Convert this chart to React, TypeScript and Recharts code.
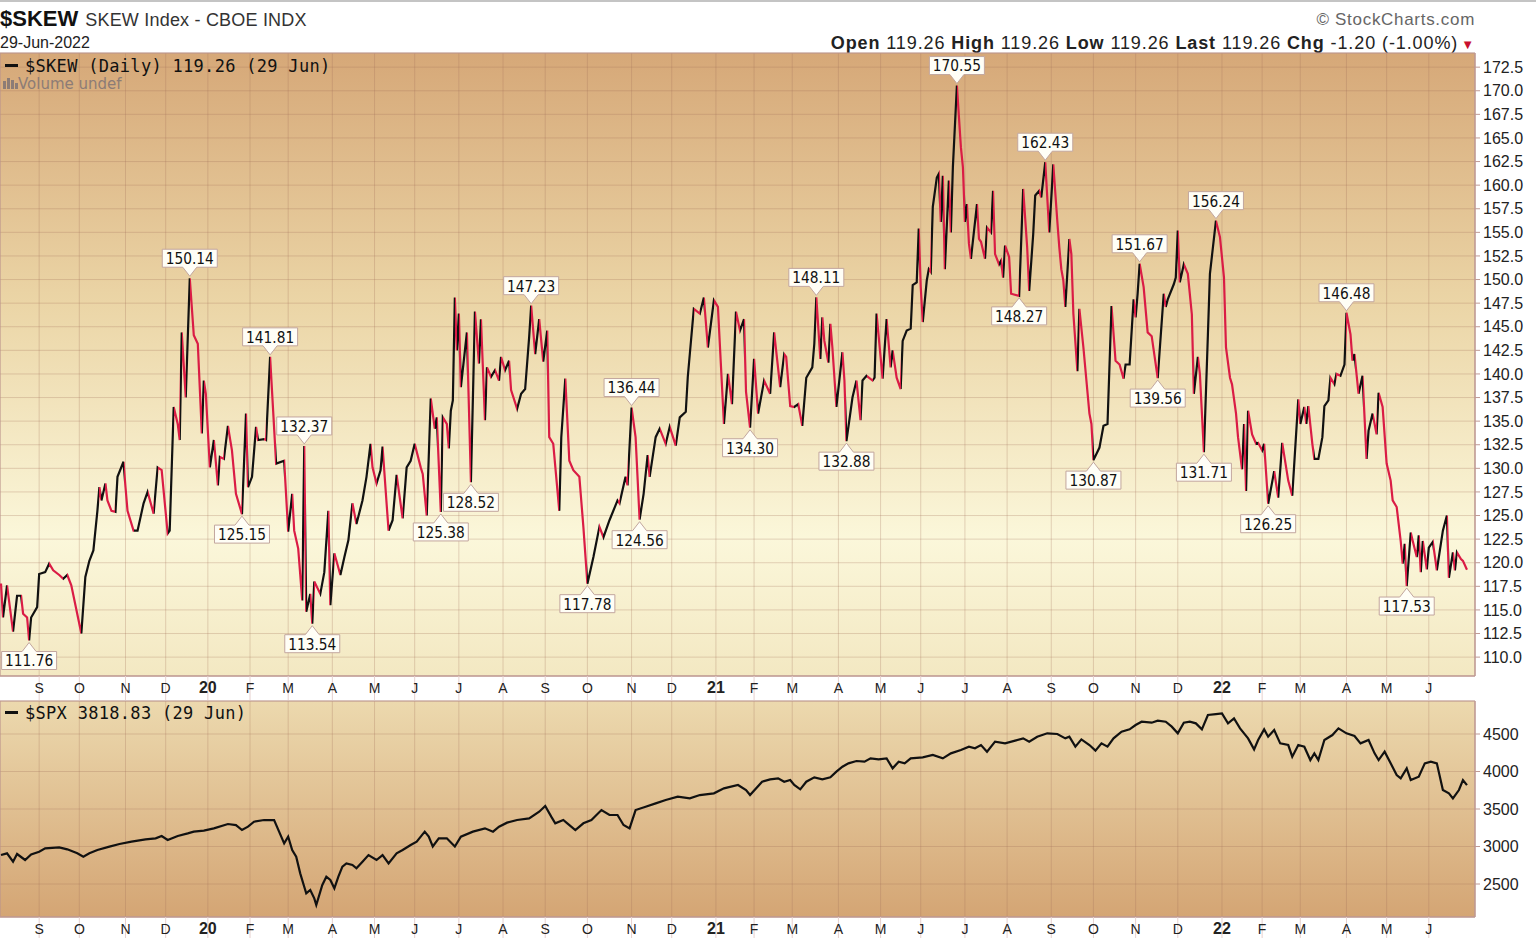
import React from "react";
import {
  ComposedChart,
  Line,
  XAxis,
  YAxis,
  CartesianGrid,
  ReferenceDot,
  ReferenceArea,
} from "recharts";

// month tick labels (Sep 2019 .. Jun 2022)
const monthLabels = [
  "S", "O", "N", "D",
  "20", "F", "M", "A", "M", "J", "J", "A", "S", "O", "N", "D",
  "21", "F", "M", "A", "M", "J", "J", "A", "S", "O", "N", "D",
  "22", "F", "M", "A", "M", "J",
];
// trading days per month, Aug 2019 (partial) .. Jun 2022 (to the 29th)
const monthTradingDays = [
  19, 20, 23, 20, 21,
  21, 19, 22, 21, 20, 22, 22, 21, 21, 22, 20, 22,
  19, 19, 23, 21, 20, 22, 21, 22, 21, 21, 21, 22,
  20, 19, 23, 20, 21, 20,
];

const skewTicks = [
  110, 112.5, 115, 117.5, 120, 122.5, 125, 127.5, 130, 132.5, 135, 137.5, 140,
  142.5, 145, 147.5, 150, 152.5, 155, 157.5, 160, 162.5, 165, 167.5, 170, 172.5,
];
const spxTicks = [2500, 3000, 3500, 4000, 4500];

// [trading day, close]
const skewPoints: [number, number][] = [
  [0, 117.8], [1, 114.2], [3, 117.6], [6, 112.7], [8, 116.5], [10, 116.5], [11, 114.6], [13, 114.2],
  [14, 111.76], [15, 114.2], [18, 115.3], [19, 118.8], [22, 119.0], [24, 119.9], [26, 119.2], [29, 118.7],
  [31, 118.3], [33, 118.7], [35, 117.6], [40, 112.5], [42, 118.5], [44, 120.2], [46, 121.3], [48, 125.5],
  [49, 128.0], [50, 126.6], [52, 128.4], [53, 126.6], [55, 125.5], [57, 125.4], [58, 129.1], [61, 130.7],
  [62, 128.0], [63, 125.5], [66, 123.4], [68, 123.4], [71, 126.3], [73, 127.5], [76, 125.2], [78, 130.1],
  [80, 129.8], [83, 123.1], [84, 123.4], [86, 136.5], [88, 134.7], [89, 133.0], [90, 144.4], [92, 137.5],
  [94, 150.14], [96, 144.1], [98, 143.2], [100, 133.7], [101, 139.3], [102, 137.9], [104, 130.1], [106, 133.0],
  [108, 128.2], [109, 131.2], [111, 131.0], [113, 134.5], [115, 131.9], [117, 127.3], [120, 125.15], [122, 135.8],
  [123, 128.0], [125, 129.1], [127, 134.4], [128, 133.0], [131, 133.1], [132, 133.0], [134, 141.81], [137, 130.5],
  [141, 130.8], [143, 123.3], [145, 127.3], [146, 123.4], [148, 121.5], [150, 116.0], [151, 132.37], [152, 114.8],
  [154, 116.7], [155, 113.54], [156, 118.0], [159, 116.7], [161, 119.0], [163, 125.5], [164, 115.5], [166, 121.0],
  [169, 118.7], [171, 120.6], [173, 122.4], [175, 126.3], [177, 124.1], [180, 126.6], [182, 129.1], [184, 132.6],
  [185, 130.1], [187, 128.4], [189, 129.8], [190, 132.3], [192, 126.3], [193, 123.4], [195, 124.5], [197, 129.3],
  [200, 124.7], [202, 130.1], [204, 130.8], [206, 132.6], [209, 130.1], [210, 129.4], [212, 125.0], [214, 137.4],
  [216, 134.2], [217, 135.4], [219, 125.38], [220, 135.4], [222, 134.7], [223, 132.1], [224, 136.1], [225, 137.2],
  [226, 148.1], [227, 142.5], [228, 146.4], [229, 138.6], [232, 144.4], [234, 128.52], [236, 146.6], [238, 141.1],
  [239, 145.8], [241, 135.1], [242, 140.7], [244, 139.7], [246, 140.4], [248, 139.3], [249, 141.8], [251, 140.4],
  [253, 141.4], [254, 138.3], [257, 136.3], [259, 137.9], [261, 138.4], [263, 143.9], [264, 147.23], [266, 142.1],
  [268, 145.8], [270, 141.3], [272, 144.6], [273, 133.3], [275, 132.6], [278, 125.5], [279, 133.3], [281, 139.5],
  [283, 130.8], [285, 129.8], [288, 129.1], [290, 123.8], [292, 117.78], [295, 120.6], [298, 123.8], [300, 122.7],
  [303, 124.5], [307, 126.6], [308, 126.3], [311, 129.1], [312, 128.2], [314, 136.44], [316, 133.3], [318, 124.56],
  [320, 127.3], [322, 131.4], [323, 129.1], [326, 133.3], [328, 134.2], [331, 132.6], [333, 134.4], [336, 132.4],
  [338, 135.4], [341, 136.0], [342, 139.7], [345, 146.9], [348, 146.4], [350, 148.1], [352, 142.8], [355, 147.8],
  [357, 147.1], [360, 134.7], [362, 140.0], [364, 136.8], [366, 146.6], [368, 144.6], [370, 145.8], [371, 138.1],
  [373, 134.3], [375, 141.6], [377, 135.8], [380, 139.3], [383, 137.9], [385, 144.4], [388, 138.6], [390, 142.1],
  [391, 141.8], [393, 136.6], [395, 136.5], [397, 136.8], [399, 134.5], [401, 139.6], [404, 140.7], [405, 143.2],
  [406, 148.11], [408, 141.6], [409, 146.0], [410, 143.5], [412, 141.2], [413, 145.3], [414, 142.8], [416, 136.5],
  [419, 142.3], [420, 139.3], [421, 132.88], [424, 137.5], [426, 139.3], [428, 135.1], [429, 139.3], [431, 139.8],
  [434, 139.3], [435, 139.6], [436, 146.4], [439, 139.5], [441, 145.8], [443, 140.7], [444, 142.5], [446, 139.6],
  [448, 138.4], [449, 143.5], [451, 144.6], [453, 144.8], [454, 149.4], [456, 149.7], [457, 155.4], [458, 149.2],
  [459, 145.5], [461, 149.9], [462, 151.1], [463, 150.8], [464, 157.7], [466, 160.8], [467, 161.2], [468, 156.1],
  [469, 161.0], [470, 151.1], [472, 160.5], [473, 155.0], [474, 161.9], [476, 170.55], [478, 164.0], [479, 161.9],
  [480, 156.1], [481, 158.0], [482, 153.8], [483, 152.2], [486, 158.0], [487, 154.3], [488, 154.0], [490, 152.2],
  [491, 155.5], [493, 155.0], [494, 159.4], [495, 152.7], [497, 151.6], [498, 152.0], [499, 150.2], [500, 153.6],
  [502, 152.4], [503, 148.5], [507, 148.27], [509, 159.6], [511, 153.4], [512, 148.8], [514, 154.8], [515, 158.9],
  [517, 159.4], [518, 158.7], [520, 162.43], [522, 155.0], [524, 162.2], [526, 156.2], [527, 153.4], [528, 151.1],
  [529, 149.9], [530, 147.1], [532, 154.3], [533, 152.7], [534, 146.4], [536, 140.3], [537, 146.9], [539, 142.8],
  [542, 135.8], [543, 134.7], [544, 130.87], [547, 132.2], [549, 134.5], [551, 134.7], [553, 147.2], [555, 141.4],
  [557, 141.0], [559, 139.5], [560, 141.0], [562, 141.0], [564, 147.9], [565, 146.0], [566, 148.5], [567, 151.67],
  [569, 149.2], [571, 144.4], [573, 144.0], [576, 139.56], [579, 148.5], [580, 147.1], [581, 147.9], [584, 149.5],
  [585, 150.2], [586, 155.2], [587, 149.7], [589, 151.6], [591, 150.6], [593, 146.3], [594, 137.9], [596, 141.8],
  [597, 140.0], [599, 131.71], [601, 144.2], [602, 150.6], [605, 156.24], [607, 154.5], [609, 150.2], [610, 142.8],
  [612, 139.6], [613, 138.9], [615, 135.8], [616, 133.3], [618, 129.9], [619, 134.7], [620, 127.6], [621, 136.1],
  [623, 133.6], [625, 132.6], [626, 132.7], [628, 131.9], [629, 132.6], [631, 126.25], [634, 129.7], [636, 126.9],
  [638, 132.7], [641, 128.7], [643, 127.1], [646, 137.3], [647, 134.7], [649, 136.5], [650, 134.7], [651, 136.6],
  [653, 132.6], [654, 131.0], [656, 131.0], [658, 133.3], [659, 136.6], [661, 137.2], [662, 139.6], [664, 138.9],
  [665, 140.0], [667, 139.8], [669, 141.0], [670, 146.48], [672, 144.2], [673, 141.4], [674, 142.1], [676, 137.9],
  [678, 139.8], [680, 131.0], [681, 134.0], [683, 135.8], [685, 133.6], [686, 138.0], [688, 136.5], [690, 130.5],
  [692, 128.7], [693, 126.6], [695, 125.9], [697, 122.3], [698, 119.9], [699, 122.0], [700, 117.53], [702, 123.2],
  [703, 122.3], [705, 120.6], [706, 122.9], [707, 119.0], [708, 122.3], [710, 119.3], [711, 121.6], [713, 122.2],
  [715, 119.2], [718, 123.4], [720, 125.0], [721, 118.4], [723, 121.1], [724, 119.2], [725, 121.1], [727, 120.4],
  [728, 120.2], [730, 119.26],
];

const spxPoints: [number, number][] = [
  [0, 2886], [3, 2909], [6, 2798], [8, 2900], [12, 2820], [15, 2895], [19, 2931], [22, 2975],
  [29, 2989], [33, 2962], [38, 2909], [41, 2864], [44, 2909], [48, 2953], [54, 2998], [59, 3033],
  [65, 3064], [72, 3095], [77, 3109], [80, 3140], [83, 3087], [88, 3140], [93, 3175], [96, 3198],
  [101, 3211], [106, 3242], [113, 3300], [117, 3286], [120, 3220], [123, 3264], [126, 3331], [131, 3353],
  [136, 3353], [141, 3042], [143, 3131], [145, 2953], [147, 2864], [149, 2642], [151, 2464], [152, 2375],
  [154, 2420], [156, 2309], [157, 2220], [160, 2487], [162, 2598], [164, 2553], [166, 2442], [168, 2598],
  [170, 2731], [172, 2775], [175, 2753], [177, 2709], [180, 2798], [183, 2886], [187, 2820], [190, 2886],
  [193, 2775], [197, 2909], [200, 2953], [204, 3020], [207, 3064], [211, 3198], [213, 3131], [215, 3000],
  [218, 3109], [222, 3109], [226, 3000], [229, 3131], [235, 3198], [241, 3242], [245, 3198], [248, 3264],
  [252, 3318], [257, 3353], [263, 3375], [268, 3464], [271, 3540], [274, 3398], [276, 3309], [280, 3353],
  [282, 3309], [286, 3220], [290, 3309], [294, 3353], [299, 3486], [303, 3420], [307, 3420], [310, 3286],
  [313, 3242], [316, 3486], [321, 3531], [326, 3575], [331, 3620], [337, 3664], [343, 3642], [348, 3686],
  [355, 3709], [360, 3775], [367, 3820], [371, 3753], [373, 3686], [379, 3864], [383, 3895], [387, 3909],
  [390, 3864], [393, 3886], [395, 3820], [398, 3762], [401, 3864], [405, 3922], [409, 3895], [413, 3922],
  [416, 3998], [419, 4064], [422, 4109], [426, 4140], [430, 4131], [433, 4175], [437, 4162], [441, 4175],
  [444, 4042], [447, 4131], [450, 4109], [453, 4175], [459, 4189], [464, 4220], [469, 4175], [473, 4242],
  [478, 4287], [482, 4331], [485, 4309], [488, 4353], [491, 4264], [495, 4398], [500, 4375], [505, 4411],
  [509, 4442], [512, 4398], [516, 4464], [521, 4509], [526, 4500], [530, 4442], [532, 4464], [535, 4331],
  [538, 4428], [542, 4353], [545, 4278], [548, 4375], [551, 4331], [554, 4442], [558, 4531], [562, 4562],
  [565, 4620], [568, 4664], [573, 4651], [576, 4677], [580, 4664], [583, 4598], [586, 4509], [589, 4651],
  [592, 4664], [595, 4642], [598, 4562], [601, 4753], [605, 4766], [608, 4775], [611, 4642], [614, 4709],
  [617, 4575], [621, 4442], [624, 4295], [626, 4420], [629, 4562], [631, 4464], [634, 4553], [637, 4375],
  [641, 4353], [643, 4198], [646, 4353], [649, 4331], [652, 4153], [654, 4242], [656, 4153], [659, 4420],
  [663, 4486], [666, 4575], [670, 4509], [674, 4473], [677, 4375], [681, 4420], [684, 4242], [686, 4153],
  [689, 4264], [692, 4109], [695, 3953], [697, 3909], [700, 4042], [702, 3886], [706, 3931], [709, 4109],
  [712, 4131], [715, 4109], [718, 3753], [721, 3709], [723, 3642], [726, 3753], [728, 3886], [730, 3818.83],
];

// annotated highs and lows
const skewHighs: [number, number][] = [
  [94, 150.14], [134, 141.81], [151, 132.37], [264, 147.23], [314, 136.44], [406, 148.11],
  [476, 170.55], [520, 162.43], [567, 151.67], [605, 156.24], [670, 146.48],
];
const skewLows: [number, number][] = [
  [14, 111.76], [120, 125.15], [155, 113.54], [219, 125.38], [234, 128.52], [292, 117.78],
  [318, 124.56], [373, 134.3], [421, 132.88], [507, 148.27], [544, 130.87], [576, 139.56],
  [599, 131.71], [631, 126.25], [700, 117.53],
];

const RED = "#DA1C45";
const BLACK = "#111";
const GRID = "rgba(160,110,90,0.28)";
const FRAME = "#BF9A94";
const STRIP_TICK = "#E6D0CE";
const SANS = "'Liberation Sans', Arial, sans-serif";
const X_DOMAIN = [-0.5, 734];

const monthStarts: number[] = [];
monthTradingDays.reduce((acc, n, k) => {
  const next = acc + n;
  if (k < monthLabels.length) monthStarts.push(next);
  return next;
}, 0);

const skewData = skewPoints.map(([i, v]) => ({ i, v }));
const spxData = spxPoints.map(([i, v]) => ({ i, v }));

function segmentStops() {
  const first = skewPoints[0][0];
  const last = skewPoints[skewPoints.length - 1][0];
  const out: JSX.Element[] = [];
  for (let k = 1; k < skewPoints.length; k++) {
    const [i0, v0] = skewPoints[k - 1];
    const [i1, v1] = skewPoints[k];
    const c = v1 < v0 ? RED : BLACK;
    out.push(<stop key={`a${k}`} offset={(i0 - first) / (last - first)} stopColor={c} />);
    out.push(<stop key={`b${k}`} offset={(i1 - first) / (last - first)} stopColor={c} />);
  }
  return out;
}

// tick lines run through the whole white strip, so the text is pulled back up
const MonthTick = (props: any) => {
  const { x, y, payload, shift } = props;
  const idx = monthStarts.indexOf(payload.value);
  const label = monthLabels[idx] ?? "";
  const isYear = /\d/.test(label);
  return (
    <text
      x={x}
      y={y}
      dy={shift}
      textAnchor="middle"
      fontFamily={SANS}
      fontSize={isYear ? 16 : 14}
      fontWeight={isYear ? 700 : 400}
      fill="#222"
    >
      {label}
    </text>
  );
};

function Callout({ cx, cy, value, high }: { cx: number; cy: number; value: number; high: boolean }) {
  const w = 55, h = 18, gap = 11, tip = 2, half = 7;
  let d: string;
  let ty: number;
  if (high) {
    const yb = cy - gap, yt = yb - h;
    d = `M${cx - w / 2},${yt} H${cx + w / 2} V${yb} H${cx + half} L${cx},${cy - tip} L${cx - half},${yb} H${cx - w / 2} Z`;
    ty = yt + h / 2;
  } else {
    const yt = cy + gap, yb = yt + h;
    d = `M${cx - w / 2},${yt} H${cx - half} L${cx},${cy + tip} L${cx + half},${yt} H${cx + w / 2} V${yb} H${cx - w / 2} Z`;
    ty = yt + h / 2;
  }
  return (
    <g>
      <path d={d} fill="#FFFEF6" stroke="#C2A69E" strokeWidth={1} />
      <text
        transform={`translate(${cx} ${ty}) scale(0.86 1)`}
        x={0}
        y={0}
        dy="0.37em"
        textAnchor="middle"
        fontFamily="'DejaVu Sans', Verdana, sans-serif"
        fontSize={16}
        fill="#111"
      >
        {value.toFixed(2)}
      </text>
    </g>
  );
}

const legendMono: React.CSSProperties = {
  position: "absolute",
  fontFamily: "'DejaVu Sans Mono', monospace",
  fontSize: 17,
  letterSpacing: 0.3,
  color: "#111",
  whiteSpace: "nowrap",
  lineHeight: "18px",
};

const Dash = () => (
  <span
    style={{
      display: "inline-block",
      width: 13,
      height: 3,
      background: "#111",
      verticalAlign: "middle",
      marginRight: 7,
      marginTop: -3,
    }}
  />
);

export default function App() {
  return (
    <div
      style={{
        position: "fixed",
        left: 0,
        top: 0,
        width: 1536,
        height: 938,
        background: "#fff",
        overflow: "hidden",
        fontFamily: SANS,
      }}
    >
      <div style={{ position: "absolute", left: 0, top: 0, width: 1536, height: 2, background: "#C4C4C4" }} />

      {/* header */}
      <div style={{ position: "absolute", left: 0, top: 7, whiteSpace: "nowrap", lineHeight: "24px" }}>
        <span style={{ fontSize: 22, fontWeight: 700, color: "#111" }}>$SKEW</span>
        <span style={{ fontSize: 18, color: "#333", marginLeft: 7, letterSpacing: 0.2 }}>SKEW Index - CBOE INDX</span>
      </div>
      <div style={{ position: "absolute", left: 0, top: 34, fontSize: 16, color: "#222", lineHeight: "18px" }}>
        29-Jun-2022
      </div>
      <div
        style={{
          position: "absolute",
          right: 61,
          top: 10,
          fontSize: 17,
          letterSpacing: 0.7,
          color: "#666",
          lineHeight: "20px",
          whiteSpace: "nowrap",
        }}
      >
        © StockCharts.com
      </div>
      <div
        style={{
          position: "absolute",
          right: 61,
          top: 33,
          fontSize: 18,
          letterSpacing: 0.9,
          color: "#222",
          lineHeight: "20px",
          whiteSpace: "nowrap",
        }}
      >
        <b>Open</b> 119.26 <b>High</b> 119.26 <b>Low</b> 119.26 <b>Last</b> 119.26 <b>Chg</b> -1.20 (-1.00%)
        <span style={{ color: "#C8102E", fontSize: 13, marginLeft: 3 }}>▼</span>
      </div>

      {/* SKEW panel */}
      <div style={{ position: "absolute", left: 0, top: 0 }}>
        <ComposedChart width={1536} height={700} data={skewData} margin={{ top: 53, right: 0, bottom: 0, left: 0 }}>
          <defs>
            <linearGradient id="skewBg" x1="0" y1="0" x2="0" y2="1">
              <stop offset="0%" stopColor="#D6A878" />
              <stop offset="40%" stopColor="#EBD5A6" />
              <stop offset="78%" stopColor="#FBF7DA" />
              <stop offset="100%" stopColor="#F3E8C2" />
            </linearGradient>
            <linearGradient id="skewStroke" x1="0" y1="0" x2="1" y2="0">
              {segmentStops()}
            </linearGradient>
          </defs>
          <CartesianGrid fill="url(#skewBg)" stroke={GRID} strokeWidth={1} />
          <XAxis
            dataKey="i"
            type="number"
            domain={X_DOMAIN}
            allowDataOverflow
            ticks={monthStarts}
            interval={0}
            height={24}
            tick={<MonthTick shift={-7} />}
            tickSize={24}
            tickMargin={0}
            tickLine={{ stroke: STRIP_TICK }}
            axisLine={{ stroke: FRAME }}
          />
          <YAxis
            orientation="right"
            type="number"
            domain={[108, 174]}
            allowDataOverflow
            ticks={skewTicks}
            interval={0}
            width={61}
            tickSize={5}
            tickMargin={3}
            tickFormatter={(v: number) => v.toFixed(1)}
            tick={{ fontFamily: SANS, fontSize: 16, fill: "#222" }}
            tickLine={{ stroke: FRAME }}
            axisLine={{ stroke: FRAME }}
          />
          <ReferenceArea x1={X_DOMAIN[0]} x2={X_DOMAIN[1]} y1={108} y2={174} fill="none" stroke={FRAME} />
          <Line
            dataKey="v"
            type="linear"
            stroke="url(#skewStroke)"
            strokeWidth={2.2}
            dot={false}
            activeDot={false}
            isAnimationActive={false}
          />
          {skewHighs.map(([i, v]) => (
            <ReferenceDot
              key={`h${i}`}
              x={i}
              y={v}
              r={0}
              ifOverflow="visible"
              zIndex={1000}
              shape={(p: any) => <Callout cx={p.cx} cy={p.cy} value={v} high />}
            />
          ))}
          {skewLows.map(([i, v]) => (
            <ReferenceDot
              key={`l${i}`}
              x={i}
              y={v}
              r={0}
              ifOverflow="visible"
              zIndex={1000}
              shape={(p: any) => <Callout cx={p.cx} cy={p.cy} value={v} high={false} />}
            />
          ))}
        </ComposedChart>
      </div>

      <div style={{ ...legendMono, left: 5, top: 57 }}>
        <Dash />$SKEW (Daily) 119.26 (29 Jun)
      </div>
      <div
        style={{
          position: "absolute",
          left: 3,
          top: 75,
          fontFamily: "'DejaVu Sans', Verdana, sans-serif",
          fontSize: 15,
          color: "#8C7C76",
          lineHeight: "18px",
          whiteSpace: "nowrap",
        }}
      >
        <svg width={15} height={12} style={{ verticalAlign: "middle", marginTop: -3 }}>
          <rect x={0} y={4} width={3} height={8} fill="#8C7C76" />
          <rect x={4} y={1} width={3} height={11} fill="#8C7C76" />
          <rect x={8} y={3} width={3} height={9} fill="#8C7C76" />
          <rect x={12} y={6} width={3} height={6} fill="#8C7C76" />
        </svg>
        Volume undef
      </div>

      {/* SPX panel */}
      <div style={{ position: "absolute", left: 0, top: 700 }}>
        <ComposedChart width={1536} height={238} data={spxData} margin={{ top: 1, right: 0, bottom: 0, left: 0 }}>
          <defs>
            <linearGradient id="spxBg" x1="0" y1="0" x2="0" y2="1">
              <stop offset="0%" stopColor="#ECD9AE" />
              <stop offset="100%" stopColor="#D4A574" />
            </linearGradient>
          </defs>
          <CartesianGrid fill="url(#spxBg)" stroke={GRID} strokeWidth={1} />
          <XAxis
            dataKey="i"
            type="number"
            domain={X_DOMAIN}
            allowDataOverflow
            ticks={monthStarts}
            interval={0}
            height={21}
            tick={<MonthTick shift={-4} />}
            tickSize={21}
            tickMargin={0}
            tickLine={{ stroke: STRIP_TICK }}
            axisLine={{ stroke: FRAME }}
          />
          <YAxis
            orientation="right"
            type="number"
            domain={[2060, 4940]}
            allowDataOverflow
            ticks={spxTicks}
            interval={0}
            width={61}
            tickSize={5}
            tickMargin={3}
            tick={{ fontFamily: SANS, fontSize: 16, fill: "#222" }}
            tickLine={{ stroke: FRAME }}
            axisLine={{ stroke: FRAME }}
          />
          <ReferenceArea x1={X_DOMAIN[0]} x2={X_DOMAIN[1]} y1={2060} y2={4940} fill="none" stroke={FRAME} />
          <Line
            dataKey="v"
            type="linear"
            stroke={BLACK}
            strokeWidth={2.2}
            dot={false}
            activeDot={false}
            isAnimationActive={false}
          />
        </ComposedChart>
      </div>
      <div style={{ ...legendMono, left: 5, top: 704 }}>
        <Dash />$SPX 3818.83 (29 Jun)
      </div>
    </div>
  );
}
